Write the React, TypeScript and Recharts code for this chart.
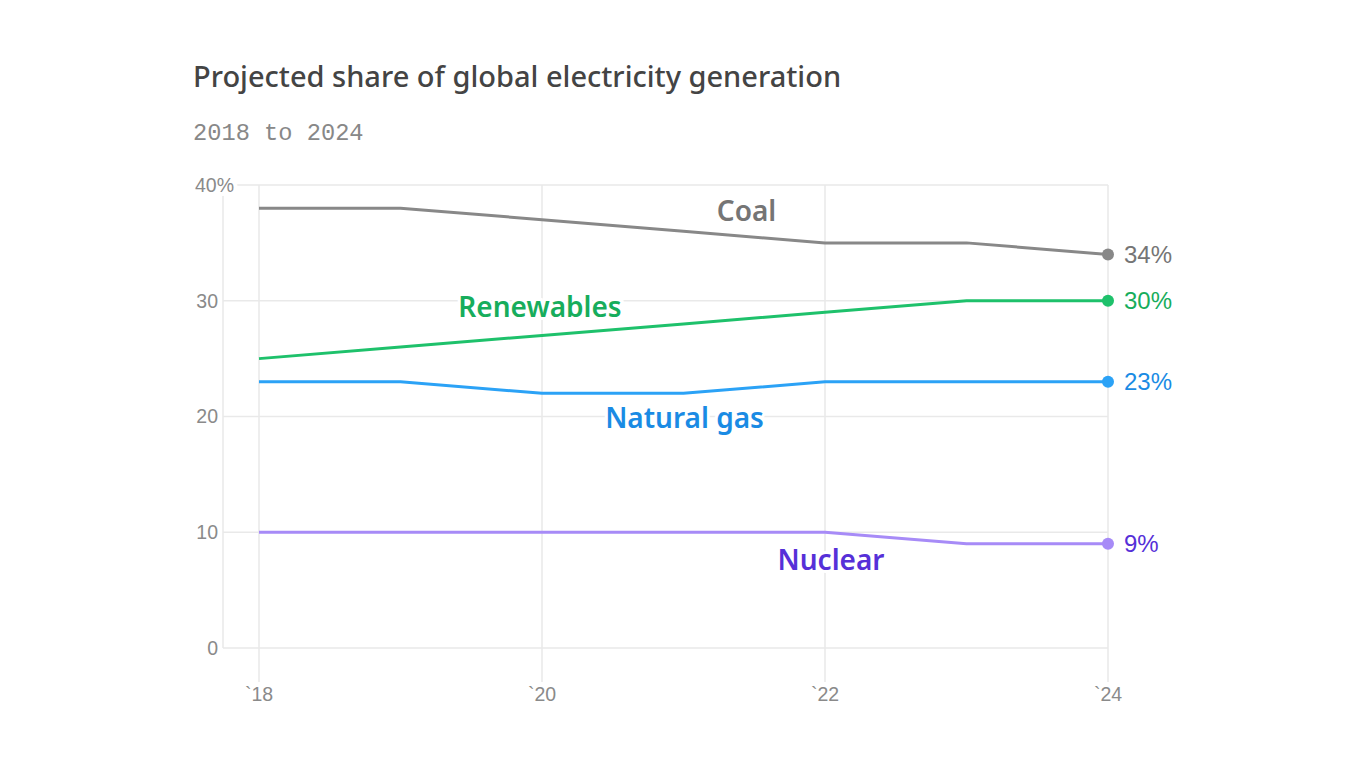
import { LineChart, Line, XAxis, YAxis, CartesianGrid } from "recharts";

const years = [2018, 2019, 2020, 2021, 2022, 2023, 2024];
const coal = [38, 38, 37, 36, 35, 35, 34];
const renewables = [25, 26, 27, 28, 29, 30, 30];
const naturalGas = [23, 23, 22, 22, 23, 23, 23];
const nuclear = [10, 10, 10, 10, 10, 9, 9];
const yTicks = [0, 10, 20, 30, 40];

const series = [
  { key: "coal", name: "Coal", line: "#888888", text: "#757575", at: 3, dx: 63, dy: -20 },
  { key: "renewables", name: "Renewables", line: "#1ec16b", text: "#17ad5c", at: 2, dx: -2, dy: -28 },
  { key: "gas", name: "Natural gas", line: "#2ba2f6", text: "#1a8be4", at: 3, dx: 1, dy: 25 },
  { key: "nuclear", name: "Nuclear", line: "#a78bf7", text: "#5630d8", at: 4, dx: 6, dy: 28 },
];

const data = years.map((year, i) => ({
  year,
  coal: coal[i],
  renewables: renewables[i],
  gas: naturalGas[i],
  nuclear: nuclear[i],
}));

const last = years.length - 1;
const sans = "'Noto Sans', Lato, sans-serif";
const axisFont = "'Liberation Sans', sans-serif";

function YTick(props: any) {
  const { x, y, payload } = props;
  const v = payload.value;
  return (
    <text
      x={v === 40 ? x + 16 : x}
      y={y}
      dy="0.35em"
      textAnchor="end"
      fontFamily={axisFont}
      fontSize={19.5}
      fill="#8a8a8a"
      stroke="#fff"
      strokeWidth={8}
      paintOrder="stroke"
    >
      {v === 40 ? "40%" : v}
    </text>
  );
}

function XTick(props: any) {
  const { x, y, payload } = props;
  return (
    <text x={x} y={y} dy="0.71em" textAnchor="middle" fontFamily={axisFont} fontSize={19.5} fill="#8a8a8a">
      {"`" + String(payload.value).slice(2)}
    </text>
  );
}

export default function App() {
  return (
    <div style={{ position: "absolute", left: 0, top: 0, width: 1366, height: 768, background: "#fff" }}>
      <div
        style={{
          position: "absolute",
          left: 193,
          top: 56,
          fontFamily: sans,
          fontSize: 29,
          fontWeight: 500,
          color: "#444",
          whiteSpace: "nowrap",
        }}
      >
        Projected share of global electricity generation
      </div>
      <div
        style={{
          position: "absolute",
          left: 193,
          top: 120,
          fontFamily: "'Liberation Mono', monospace",
          fontSize: 23.7,
          color: "#888",
          whiteSpace: "nowrap",
        }}
      >
        2018 to 2024
      </div>
      <div style={{ position: "absolute", left: 0, top: 0 }}>
        <LineChart width={1366} height={768} data={data} margin={{ top: 185, right: 258, bottom: 40, left: 183 }}>
          <CartesianGrid stroke="#e9e9e9" strokeWidth={1.5} />
          <XAxis
            dataKey="year"
            padding={{ left: 36, right: 0 }}
            interval={1}
            axisLine={false}
            tickLine={{ stroke: "#e9e9e9", strokeWidth: 1.5 }}
            tickSize={34}
            tickMargin={5}
            tick={<XTick />}
            height={80}
          />
          <YAxis
            domain={[0, 40]}
            ticks={yTicks}
            width={40}
            axisLine={false}
            tickLine={false}
            tickSize={5}
            tickMargin={0}
            tick={<YTick />}
          />
          {series.map((s) => (
            <Line
              key={s.key}
              dataKey={s.key}
              type="linear"
              stroke={s.line}
              strokeWidth={3}
              isAnimationActive={false}
              dot={(p: any) =>
                p.index === last ? (
                  <circle key={p.index} cx={p.cx} cy={p.cy} r={6} fill={s.line} stroke="none" />
                ) : (
                  <g key={p.index} />
                )
              }
              activeDot={false}
              label={(p: any) => {
                if (p.index === last) {
                  return (
                    <text
                      key={"e" + p.index}
                      x={p.x + 16}
                      y={p.y}
                      dy="0.35em"
                      fontFamily={axisFont}
                      fontSize={24}
                      fill={s.text}
                    >
                      {p.value}%
                    </text>
                  );
                }
                if (p.index === s.at) {
                  return (
                    <text
                      key={"n" + p.index}
                      x={p.x + s.dx}
                      y={p.y + s.dy}
                      dy="0.35em"
                      textAnchor="middle"
                      fontFamily={sans}
                      fontSize={28}
                      fontWeight={600}
                      fill={s.text}
                      stroke="#fff"
                      strokeWidth={6}
                      paintOrder="stroke"
                    >
                      {s.name}
                    </text>
                  );
                }
                return <g key={"x" + p.index} />;
              }}
            />
          ))}
        </LineChart>
      </div>
    </div>
  );
}
